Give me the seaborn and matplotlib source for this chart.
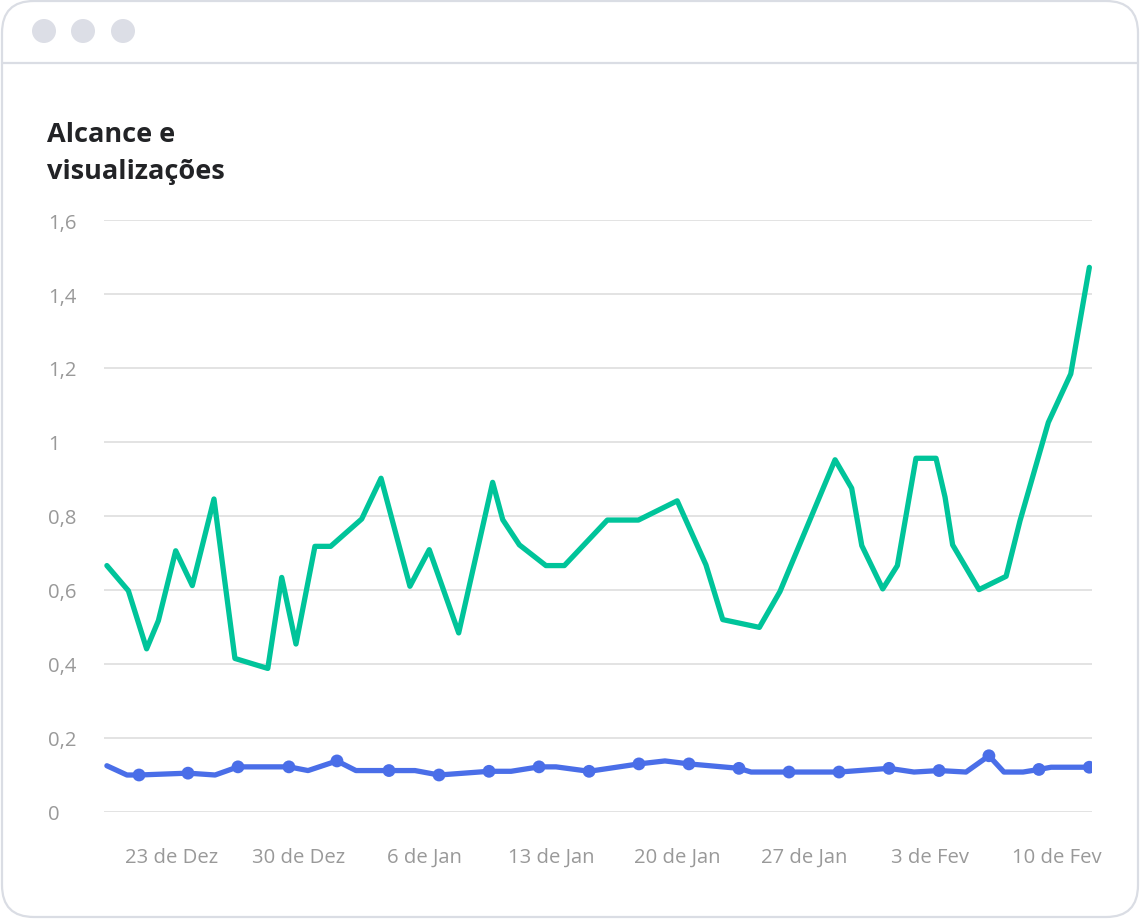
import matplotlib
matplotlib.use("Agg")
import matplotlib.pyplot as plt
from matplotlib.patches import FancyBboxPatch, Ellipse
from matplotlib.lines import Line2D
import seaborn as sns
import pandas as pd

# ---------------- data (x = days since 23 de Dez) ----------------
green_days = [-3.6, -2.41, -1.40, -0.75, 0.21, 1.13, 2.33, 3.49, 5.31, 6.08,
              6.87, 7.92, 8.79, 10.51, 11.58, 13.18, 14.25, 15.88, 17.76, 18.32,
              19.24, 20.71, 21.73, 24.11, 25.83, 27.98, 29.57, 30.50, 32.53, 33.67,
              36.72, 37.64, 38.20, 39.36, 40.17, 41.20, 42.31, 42.81, 43.23, 44.69,
              46.19, 46.96, 48.53, 49.77, 50.80]
green_vals = [0.666, 0.598, 0.441, 0.517, 0.706, 0.612, 0.846, 0.415, 0.388, 0.634,
              0.454, 0.718, 0.718, 0.792, 0.902, 0.610, 0.709, 0.484, 0.891, 0.790,
              0.722, 0.666, 0.666, 0.789, 0.789, 0.841, 0.668, 0.520, 0.499, 0.596,
              0.952, 0.875, 0.720, 0.603, 0.666, 0.956, 0.956, 0.851, 0.722, 0.601,
              0.637, 0.787, 1.053, 1.184, 1.472]

blue_days = [-3.6, -2.49, -1.82, 0.89, 2.39, 3.66, 6.48, 7.54, 9.14, 10.19,
             12.02, 13.46, 14.79, 17.56, 18.78, 20.33, 21.27, 23.10, 25.86, 27.30,
             28.63, 31.40, 32.07, 34.17, 36.94, 39.71, 41.09, 42.48, 43.97, 45.24,
             46.07, 47.13, 48.01, 48.68, 50.80]
blue_vals = [0.125, 0.100, 0.100, 0.105, 0.100, 0.122, 0.122, 0.112, 0.138, 0.112,
             0.112, 0.112, 0.100, 0.110, 0.110, 0.122, 0.122, 0.110, 0.130, 0.138,
             0.130, 0.118, 0.108, 0.108, 0.108, 0.118, 0.108, 0.112, 0.108, 0.152,
             0.108, 0.108, 0.115, 0.121, 0.121]
blue_marker_idx = [2, 3, 5, 6, 8, 10, 12, 13, 15, 17, 18, 20, 21, 23, 24, 25, 27, 29, 32, 34]

x_tick_days = [0, 7, 14, 21, 28, 35, 42, 49]
x_tick_labels = ["23 de Dez", "30 de Dez", "6 de Jan", "13 de Jan",
                 "20 de Jan", "27 de Jan", "3 de Fev", "10 de Fev"]
y_ticks = [0, 0.2, 0.4, 0.6, 0.8, 1.0, 1.2, 1.4, 1.6]
y_tick_labels = ["0", "0,2", "0,4", "0,6", "0,8", "1", "1,2", "1,4", "1,6"]
title = "Alcance e\nvisualizações"

GREEN = "#00c49a"
BLUE = "#4a6ee8"

# ---------------- figure ----------------
sns.set_theme(style="white")
plt.rcParams["font.family"] = ["Open Sans", "DejaVu Sans"]

W, H = 1140, 920
fig = plt.figure(figsize=(W / 100, H / 100), dpi=100)
fig.patch.set_facecolor("white")

# window frame
frame = FancyBboxPatch((2 / W, 2 / H), (W - 4) / W, (H - 4) / H,
                       boxstyle="round,pad=0,rounding_size=0.028",
                       transform=fig.transFigure, facecolor="none",
                       edgecolor="#dadde4", linewidth=1.6, zorder=-5,
                       mutation_aspect=W / H)
fig.patches.append(frame)
fig.lines.append(Line2D([2 / W, (W - 2) / W], [1 - 64 / H, 1 - 64 / H],
                        transform=fig.transFigure, color="#dadde4", linewidth=1.6))
for cx in (44, 83, 123):
    fig.patches.append(Ellipse((cx / W, 1 - 32 / H), 24 / W, 24 / H,
                               transform=fig.transFigure,
                               facecolor="#dcdee6", edgecolor="none"))

fig.text(47 / W, 1 - 122 / H, title, ha="left", va="top", fontsize=19.5,
         fontweight="bold", color="#222326", linespacing=1.55)

left, right, top, bottom = 104, 1092, 221, 813
ax = fig.add_axes([left / W, 1 - bottom / H, (right - left) / W, (bottom - top) / H])
ax.set_facecolor("none")

x_min = (left - 171.9) / 18.06
x_max = (right - 171.9) / 18.06

green_df = pd.DataFrame({"day": green_days, "value": green_vals})
blue_df = pd.DataFrame({"day": blue_days, "value": blue_vals})
blue_marks = blue_df.iloc[blue_marker_idx]

sns.lineplot(data=green_df, x="day", y="value", ax=ax, color=GREEN, linewidth=3.8,
             solid_joinstyle="round", solid_capstyle="round", zorder=3)
sns.lineplot(data=blue_df, x="day", y="value", ax=ax, color=BLUE, linewidth=3.8,
             solid_joinstyle="round", solid_capstyle="round", zorder=3)
sns.scatterplot(data=blue_marks, x="day", y="value", ax=ax, color=BLUE, s=85,
                edgecolor="none", zorder=4)

ax.set_xlim(x_min, x_max)
ax.set_ylim(0, 1.6)
ax.set_yticks(y_ticks)
ax.set_yticklabels(y_tick_labels)
ax.set_xticks(x_tick_days)
ax.set_xticklabels(x_tick_labels)
ax.set_xlabel("")
ax.set_ylabel("")
ax.grid(axis="y", color="#e3e3e3", linewidth=1.4)
ax.grid(axis="x", visible=False)
ax.set_axisbelow(True)
for s in ax.spines.values():
    s.set_visible(False)
ax.tick_params(axis="both", length=0, colors="#999999", labelsize=14.6)
ax.tick_params(axis="y", pad=40)
ax.tick_params(axis="x", pad=25)
for lab in ax.get_yticklabels():
    lab.set_ha("left")

fig.savefig("out.png", dpi=100, facecolor="white")
